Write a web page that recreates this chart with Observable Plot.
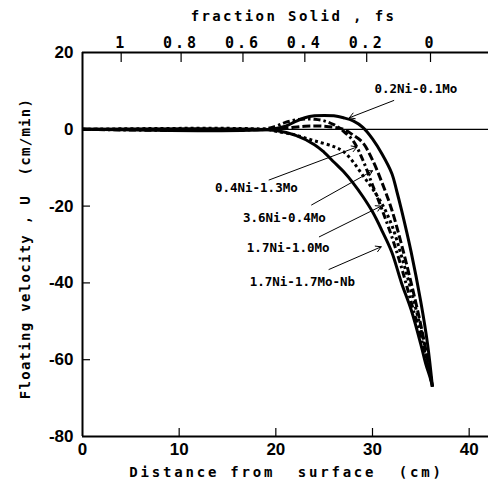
<!DOCTYPE html>
<html><head><meta charset="utf-8">
<script src="https://cdn.jsdelivr.net/npm/d3@7"></script>
<script src="https://cdn.jsdelivr.net/npm/@observablehq/plot@0.6"></script>
<style>
html,body{margin:0;padding:0;background:#fff;}
</style>
</head><body><div id="chart"></div>
<script>
// Series (distance from surface cm, floating velocity cm/min)
const seriesNames = ["0.2Ni-0.1Mo", "0.4Ni-1.3Mo", "3.6Ni-0.4Mo", "1.7Ni-1.0Mo", "1.7Ni-1.7Mo-Nb"];

const x_02Ni = [0, 19.5, 21, 22, 23, 24, 25, 26, 27, 28, 29, 30, 31, 32, 32.5, 33, 34, 35, 35.7, 36.2];
const y_02Ni = [0, 0, 0.8, 2, 3, 3.5, 3.6, 3.5, 3.0, 2.2, 0.5, -2.5, -6.5, -11.5, -16, -21, -32, -45, -56, -67];

const x_04Ni = [0, 18.5, 20, 21, 22, 23, 24, 25, 26, 27, 28, 29, 30, 31, 32, 33, 34, 35, 35.7, 36.2];
const y_04Ni = [0, 0, 0.8, 1.8, 2.4, 2.7, 2.6, 2.2, 1.2, -0.5, -3, -8, -14.5, -21, -28, -36, -45, -54, -61, -67];

const x_36Ni = [0, 19, 21, 23, 25, 27, 28, 29, 30, 31, 32, 33, 34, 35, 35.7, 36.2];
const y_36Ni = [0, 0, 0.3, 0.8, 0.8, 0, -1.5, -3.5, -8, -14, -21, -30, -40, -51, -60, -67];

const x_17Ni10 = [0, 19, 20, 22, 24, 26, 27, 28, 29, 30, 31, 32, 33, 34, 35, 35.7, 36.2];
const y_17Ni10 = [0, 0, -0.5, -1.5, -3, -4.5, -5.8, -8.5, -12, -15.5, -19.5, -25, -33, -42, -52, -60, -67];

const x_17Ni17 = [0, 18, 20, 22, 24, 25, 26, 27, 28, 29, 30, 31, 32, 33, 34, 35, 35.5, 36, 36.2];
const y_17Ni17 = [0, 0, -0.3, -1.5, -4, -6, -8.5, -11, -14, -17.5, -21.5, -26.5, -32, -40, -47, -56, -61, -65, -67];

// Axis ticks
const xTicks = [0, 10, 20, 30, 40];
const yTicks = [20, 0, -20, -40, -60, -80];
const fsLabels = ["1", "0.8", "0.6", "0.4", "0.2", "0"];
const fsAt = [4.0, 10.2, 16.6, 23.0, 29.4, 36.0];

// Titles
const xTitle = "Distance from  surface  (cm)";
const fsTitle = "fraction Solid , fs";
const yTitle = "Floating velocity , U  (cm/min)";

// Annotations: label, label anchor (x,y), arrow tip (x,y)
const annLabel = ["0.2Ni-0.1Mo", "0.4Ni-1.3Mo", "3.6Ni-0.4Mo", "1.7Ni-1.0Mo", "1.7Ni-1.7Mo-Nb"];
const annX = [30.2, 13.7, 16.6, 17.0, 17.3];
const annY = [10.6, -15.2, -23.0, -30.8, -39.8];
const arrX1 = [32.2, 19.3, 23.7, 24.5, 25.5];
const arrY1 = [7.5, -13.2, -19.7, -28.0, -36.5];
const arrX2 = [27.6, 28.4, 30.0, 30.9, 30.9];
const arrY2 = [3.0, -4.6, -10.8, -20.0, -30.6];

const xs = [x_02Ni, x_04Ni, x_36Ni, x_17Ni10, x_17Ni17];
const ys = [y_02Ni, y_04Ni, y_36Ni, y_17Ni10, y_17Ni17];
const dashes = [null, "7,3,2.5,3", "8,3", "3,3", null];

const rows = seriesNames.map((name, k) => xs[k].map((x, i) => ({series: name, x, y: ys[k][i]})));
const anns = annLabel.map((t, i) => ({t, x: annX[i], y: annY[i], x1: arrX1[i], y1: arrY1[i], x2: arrX2[i], y2: arrY2[i]}));
const fsMap = new Map(fsAt.map((p, i) => [p, fsLabels[i]]));

const mono = "'DejaVu Sans Mono', monospace";
const sans = "'Liberation Sans', Arial, sans-serif";

const lineMarks = rows.map((data, k) => Plot.line(data, {
  x: "x", y: "y", curve: "catmull-rom", stroke: "black",
  strokeWidth: 3, strokeDasharray: dashes[k] || undefined, strokeLinecap: "butt"
}));

const chart = Plot.plot({
  width: 488, height: 484,
  marginLeft: 82, marginRight: 0, marginTop: 52, marginBottom: 48,
  x: {domain: [0, 42]},
  y: {domain: [-80, 20]},
  style: {background: "white", color: "black"},
  marks: [
    Plot.ruleY([0], {stroke: "black", strokeWidth: 1.2}),
    ...lineMarks,
    Plot.arrow(anns, {x1: "x1", y1: "y1", x2: "x2", y2: "y2", stroke: "black", strokeWidth: 1, headLength: 9, bend: 0}),
    Plot.text(anns, {x: "x", y: "y", text: "t", textAnchor: "start", fontFamily: mono, fontWeight: "bold", fontSize: 12.5, fill: "black"}),
    // frame lines
    Plot.ruleX([0], {stroke: "black", strokeWidth: 2}),
    Plot.ruleY([20], {stroke: "black", strokeWidth: 2}),
    Plot.ruleY([-80], {stroke: "black", strokeWidth: 2}),
    // inward ticks
    Plot.tickX(xTicks.slice(1), {x: d => d, stroke: "black", strokeWidth: 1.2, insetTop: 376}),
    Plot.tickX(fsAt, {x: d => d, stroke: "black", strokeWidth: 1.2, insetBottom: 374}),
    Plot.tickY(yTicks.slice(1, -1), {y: d => d, stroke: "black", strokeWidth: 1.2, insetRight: 398}),
    // axes (tick labels)
    Plot.axisX(xTicks, {anchor: "bottom", tickSize: 0, tickPadding: 6, fontSize: 17, fontWeight: "bold", fontFamily: sans,
      tickFormat: d => String(d), label: null}),
    Plot.axisX(fsAt, {anchor: "top", tickSize: 0, tickPadding: 5, tickFormat: d => fsMap.get(d), fontSize: 15, fontWeight: "bold", fontFamily: mono,
      label: null}),
    Plot.axisY(yTicks, {anchor: "left", tickSize: 0, tickPadding: 9, fontSize: 17, fontWeight: "bold", fontFamily: sans,
      tickFormat: d => String(d), label: null}),
    // titles
    Plot.text([xTitle], {frameAnchor: "bottom", text: d => d, dy: 40, dx: 1, fontFamily: mono, fontWeight: "bold", fontSize: 14}),
    Plot.text([fsTitle], {frameAnchor: "top", text: d => d, dy: -41, dx: 8, fontFamily: mono, fontWeight: "bold", fontSize: 14}),
    Plot.text([yTitle], {frameAnchor: "left", textAnchor: "middle", text: d => d, dx: -57, dy: 4, rotate: -90, fontFamily: mono, fontWeight: "bold", fontSize: 14})
  ]
});
document.getElementById("chart").appendChild(chart);
chart.querySelectorAll("text").forEach(t => {
  const s = t.textContent;
  if (s === xTitle) t.style.letterSpacing = "2.8px";
  else if (s === fsTitle) t.style.letterSpacing = "2.4px";
  else if (s === yTitle) t.style.letterSpacing = "1.3px";
});
chart.querySelectorAll("g[font-size='15'] text").forEach(t => t.style.letterSpacing = "3px");
</script>
</body></html>
